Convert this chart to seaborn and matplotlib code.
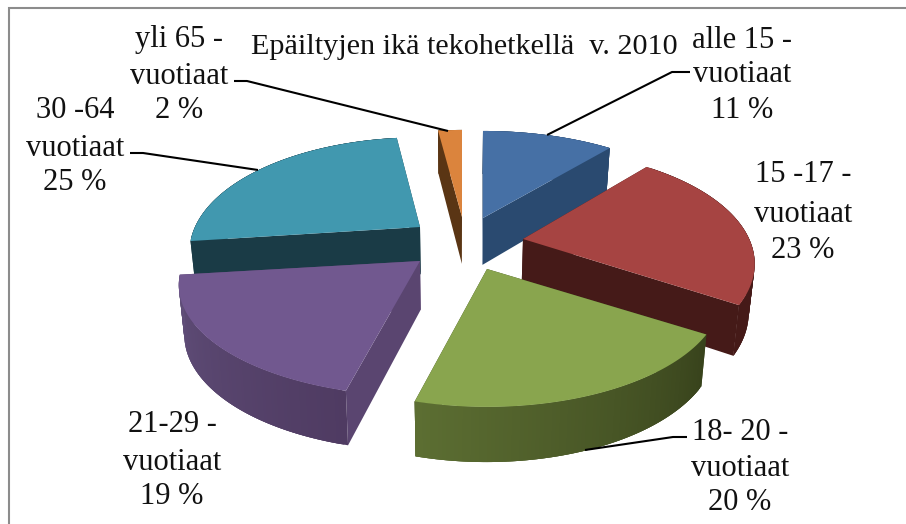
import numpy as np
import matplotlib
matplotlib.use("Agg")
import matplotlib.pyplot as plt
from matplotlib.colors import to_rgb
import seaborn as sns

# ---- data ----
categories = ["alle 15 -\nvuotiaat", "15 -17 -\nvuotiaat", "18- 20 -\nvuotiaat",
              "21-29 -\nvuotiaat", "30 -64\nvuotiaat", "yli 65 -\nvuotiaat"]
shares = [11, 23, 20, 19, 25, 2]
title_text = "Epäiltyjen ikä tekohetkellä  v. 2010"

# ---- styles ----
top_colors = sns.color_palette(["#4670A5", "#A64442", "#89A54E", "#71588F", "#4198AF", "#DB843D"])
face_colors = ["#2A4A70", "#451A18", "#3A461E", "#5A4570", "#1A3B46", "#5A3514"]
rim_start = ["#2A4A70", "#451A18", "#38431C", "#4F3B62", "#1A3B46", "#5A3514"]  # clockwise start
rim_end = ["#2A4A70", "#451A18", "#5C6E32", "#614F7A", "#1A3B46", "#5A3514"]    # clockwise end
explode_dx = [28, 68, 32, -35, -35, 7]
explode_dy = [-24, -3, 27, 19, -15, -25]
scale_x = [1.0, 0.975, 0.99, 1.015, 0.97, 1.0]
scale_y = [1.0, 1.03, 1.02, 1.0, 1.03, 1.0]
label_x = [742, 803, 740, 172, 75, 179]
label_y = [[40, 75, 110], [175, 214, 250], [432, 469, 502], [424, 462, 497], [110, 148, 182], [40, 77, 110]]
leaders = {0: ([547, 672, 690], [135, 72, 72]),
           2: ([585, 673, 687], [450, 437, 437]),
           4: ([130, 143, 258], [153, 153, 170]),
           5: ([234, 247, 448], [81, 81, 131])}
CX, CY = 455, 242
A, B, K = 232, 105.9, 0.2167
TAPER = 0.02
FS = 22

sns.set_theme(style="white")
plt.rcParams["font.family"] = ["Liberation Serif", "DejaVu Serif"]
fig = plt.figure(figsize=(9.06, 5.24), dpi=100)
ax = fig.add_axes([0, 0, 1, 1])
ax.set_xlim(0, 906)
ax.set_ylim(524, 0)
ax.axis("off")


def project(theta):
    """Perspective offset of a rim point; theta clockwise from the top, radians."""
    u, v = np.sin(theta), np.cos(theta)
    w = 1 + K * v
    return A * u / w, -B * v / w


def depth(y):
    return 43 + (np.asarray(y) - 130) * 0.044


def lower(x):
    return x - TAPER * (np.asarray(x) - CX)


def lerp(c1, c2, t):
    a, b = np.array(to_rgb(c1)), np.array(to_rgb(c2))
    return tuple(a + (b - a) * t)


ax.plot([9, 9, 906], [524, 8, 8], color="#8C8C8C", lw=1.5, zorder=0, solid_joinstyle="miter")

edges = np.cumsum([0] + shares) / sum(shares) * 2 * np.pi
draw_order = [5, 4, 0, 1, 3, 2]
z = 1
for i in draw_order:
    th = np.linspace(edges[i], edges[i + 1], 90)
    dx, dy = project(th)
    apex_x, apex_y = CX + explode_dx[i], CY + explode_dy[i]
    x, y = apex_x + scale_x[i] * dx, apex_y + scale_y[i] * dy
    d = depth(y)
    d0 = depth(apex_y)
    bx, bx0 = lower(x), lower(apex_x)
    # radial faces
    for j in (0, -1):
        ax.fill([apex_x, x[j], bx[j], bx0], [apex_y, y[j], y[j] + d[j], apex_y + d0],
                color=face_colors[i], lw=0, zorder=z)
    # rim, with its shading; each quad overlaps the next to hide seams
    n = len(th)
    for j in range(n - 1):
        k = min(j + 3, n - 1)
        c = lerp(rim_start[i], rim_end[i], j / (n - 2))
        ax.fill([x[j], x[k], bx[k], bx[j]],
                [y[j], y[k], y[k] + d[k], y[j] + d[j]],
                color=c, lw=0, zorder=z)
    # top
    ax.fill(np.r_[apex_x, x], np.r_[apex_y, y], color=top_colors[i], lw=0, zorder=z + 0.5)
    z += 1

for i, (lx, ly) in leaders.items():
    ax.plot(lx, ly, color="black", lw=1.5, zorder=20, solid_capstyle="butt")

for i, cat in enumerate(categories):
    rows = cat.split("\n") + [f"{shares[i]} %"]
    for row, ypos in zip(rows, label_y[i]):
        ax.text(label_x[i], ypos, row, ha="center", va="center", fontsize=FS, color="#111111", zorder=21)

ax.text(464, 47, title_text, ha="center", va="center", fontsize=21.7, color="#111111", zorder=21)

fig.savefig("out.png", dpi=100)
